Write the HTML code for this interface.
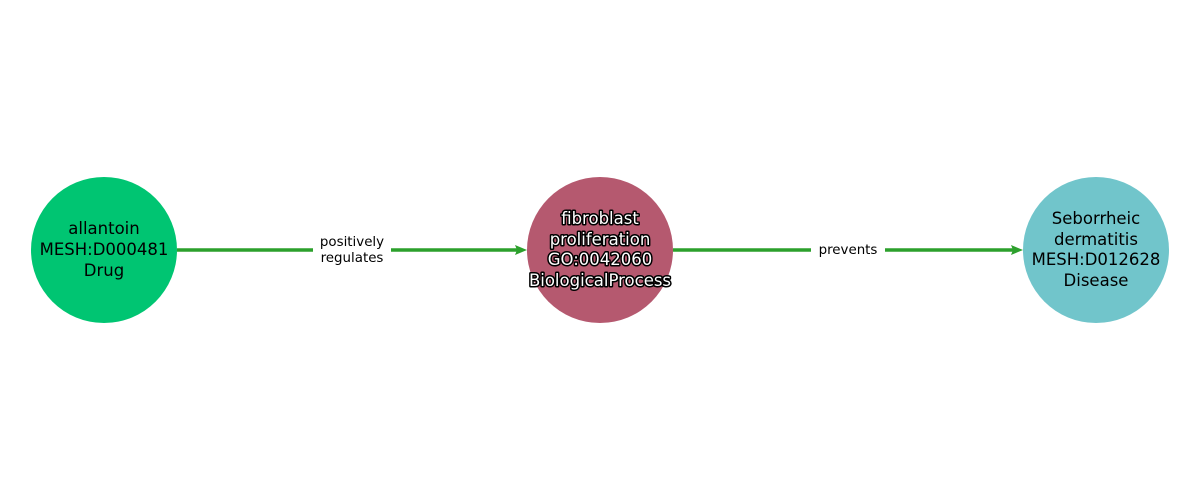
<!DOCTYPE html>
<html><head><style>body{margin:0;background:#fff}svg{display:block}</style></head><body>
<svg width="1200" height="500" xmlns="http://www.w3.org/2000/svg" font-family="DejaVu Sans, sans-serif">
<rect width="1200" height="500" fill="#fff"/>
<line x1="177" y1="250" x2="520" y2="250" stroke="#2ca02c" stroke-width="3.5"/>
<polygon points="527,250 515,245 517,250 515,255" fill="#2ca02c"/>
<line x1="673" y1="250" x2="1016" y2="250" stroke="#2ca02c" stroke-width="3.5"/>
<polygon points="1023,250 1011,245 1013,250 1011,255" fill="#2ca02c"/>
<rect x="313" y="232" width="78" height="36" fill="#fff"/>
<text x="352" y="246" font-size="13.4" text-anchor="middle">positively</text>
<text x="352" y="262" font-size="13.4" text-anchor="middle">regulates</text>
<rect x="811" y="240" width="74" height="20" fill="#fff"/>
<text x="848" y="254" font-size="13.4" text-anchor="middle">prevents</text>
<circle cx="104" cy="250" r="73" fill="#00c572"/>
<circle cx="600" cy="250" r="73" fill="#b5596f"/>
<circle cx="1096" cy="250" r="73" fill="#71c5cb"/>
<g font-size="16.5" text-anchor="middle">
<text x="104" y="234">allantoin</text>
<text x="104" y="255">MESH:D000481</text>
<text x="104" y="276">Drug</text>
<text x="1096" y="224">Seborrheic</text>
<text x="1096" y="245">dermatitis</text>
<text x="1096" y="265">MESH:D012628</text>
<text x="1096" y="286">Disease</text>
<g fill="#fff" stroke="#000" stroke-width="3" paint-order="stroke" stroke-linejoin="round">
<text x="600" y="224">fibroblast</text>
<text x="600" y="245">proliferation</text>
<text x="600" y="265">GO:0042060</text>
<text x="600" y="286">BiologicalProcess</text>
</g></g>
</svg>
</body></html>
